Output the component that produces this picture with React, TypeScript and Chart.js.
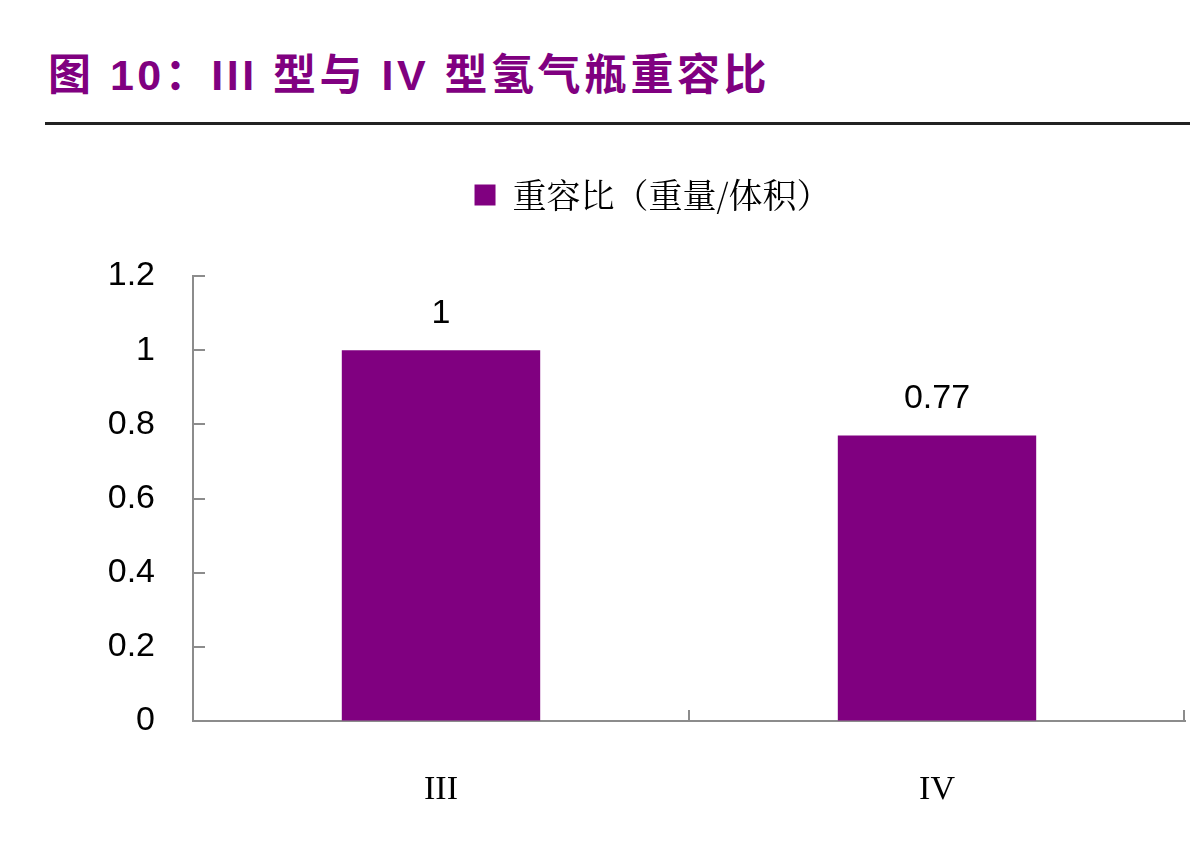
import React, { useEffect, useRef } from "react";
import { Chart, registerables } from "chart.js";

Chart.register(...registerables);

const titleText = "图 10：III 型与 IV 型氢气瓶重容比";
const seriesName = "重容比（重量/体积）";
const categories = ["III", "IV"];
const values = [1, 0.77];
const valueLabels = ["1", "0.77"];
const yTicks = [0, 0.2, 0.4, 0.6, 0.8, 1, 1.2];

const PURPLE = "#800080";
const AXIS = "#8c8c8c";

// Adds extra space between the legend row and the plot area, and nudges it right.
const legendGap = {
  id: "legendGap",
  beforeLayout(chart: any) {
    const lg = chart.legend;
    if (lg && !lg.__gapPatched) {
      const orig = lg.fit.bind(lg);
      lg.fit = function () {
        orig();
        this.height += 54;
      };
      lg.__gapPatched = true;
    }
  },
  afterLayout(chart: any) {
    const lg = chart.legend;
    if (lg) {
      lg.left += 60;
      lg.right += 60;
    }
  },
};

const innerTicks = {
  id: "innerTicks",
  afterDraw(chart: any) {
    const ctx = chart.ctx;
    const x = chart.scales.x;
    const y = chart.scales.y;
    const area = chart.chartArea;
    ctx.save();
    ctx.strokeStyle = AXIS;
    ctx.lineWidth = 2;
    ctx.beginPath();
    yTicks.forEach((v) => {
      const py = Math.round(y.getPixelForValue(v));
      ctx.moveTo(area.left, py);
      ctx.lineTo(area.left + 12, py);
    });
    const n = categories.length;
    for (let i = 1; i <= n; i++) {
      const px = i < n
        ? (x.getPixelForValue(i - 1) + x.getPixelForValue(i)) / 2
        : area.right - 1;
      ctx.moveTo(Math.round(px), area.bottom);
      ctx.lineTo(Math.round(px), area.bottom - 11);
    }
    ctx.stroke();
    ctx.restore();
  },
};

const valueLabelPlugin = {
  id: "valueLabels",
  afterDatasetsDraw(chart: any) {
    const ctx = chart.ctx;
    const meta = chart.getDatasetMeta(0);
    ctx.save();
    ctx.fillStyle = "#000";
    ctx.font = '34px "Liberation Sans", Arial, sans-serif';
    ctx.textAlign = "center";
    ctx.textBaseline = "middle";
    meta.data.forEach((bar: any, i: number) => {
      ctx.fillText(valueLabels[i], bar.x, bar.y - 37);
    });
    ctx.restore();
  },
};

export default function App() {
  const ref = useRef<HTMLCanvasElement>(null);

  useEffect(() => {
    if (!ref.current) return;
    const chart = new Chart(ref.current, {
      type: "bar",
      data: {
        labels: categories,
        datasets: [
          {
            label: seriesName,
            data: values,
            backgroundColor: PURPLE,
            borderWidth: 0,
            barPercentage: 0.4,
            categoryPercentage: 1,
          },
        ],
      },
      options: {
        animation: false,
        responsive: false,
        maintainAspectRatio: false,
        layout: { padding: { left: 0, right: 5, top: 28, bottom: 0 } },
        plugins: {
          legend: {
            display: true,
            position: "top",
            labels: {
              boxWidth: 21,
              boxHeight: 21,
              padding: 10,
              color: "#000",
              font: { family: '"Noto Serif CJK SC", "Noto Sans CJK SC", serif', size: 34 },
            },
          },
          tooltip: { enabled: false },
        },
        scales: {
          x: {
            grid: { display: true, drawOnChartArea: false, drawTicks: false },
            border: { display: true, color: AXIS, width: 2 },
            ticks: {
              color: "#000",
              padding: 49,
              font: { family: '"Liberation Serif", "Times New Roman", serif', size: 34 },
            },
            afterFit: (s: any) => {
              s.height = 129;
            },
          },
          y: {
            min: 0,
            max: 1.2,
            grid: { display: true, drawOnChartArea: false, drawTicks: false },
            border: { display: true, color: AXIS, width: 2 },
            ticks: {
              stepSize: 0.2,
              color: "#000",
              padding: 38,
              font: { family: '"Liberation Sans", Arial, sans-serif', size: 34 },
              callback: (v: any) => String(Number(Number(v).toFixed(1))),
            },
            afterFit: (s: any) => {
              s.width = 193;
            },
          },
        },
      },
      plugins: [legendGap, innerTicks, valueLabelPlugin],
    });
    return () => chart.destroy();
  }, []);

  return (
    <div
      style={{
        position: "absolute",
        left: 0,
        top: 0,
        width: 1190,
        height: 850,
        background: "#fff",
        overflow: "hidden",
      }}
    >
      <div
        style={{
          position: "absolute",
          left: 48,
          top: 50,
          color: PURPLE,
          fontWeight: "bold",
          fontSize: 43,
          lineHeight: "50px",
          letterSpacing: 3.5,
          whiteSpace: "nowrap",
          fontFamily: '"Liberation Sans", "Noto Sans CJK SC", sans-serif',
        }}
      >
        {titleText}
      </div>
      <div
        style={{
          position: "absolute",
          left: 45,
          top: 122,
          width: 1145,
          height: 3,
          background: "#222",
        }}
      />
      <canvas
        ref={ref}
        width={1190}
        height={710}
        style={{ position: "absolute", left: 0, top: 140, width: 1190, height: 710 }}
      />
    </div>
  );
}
